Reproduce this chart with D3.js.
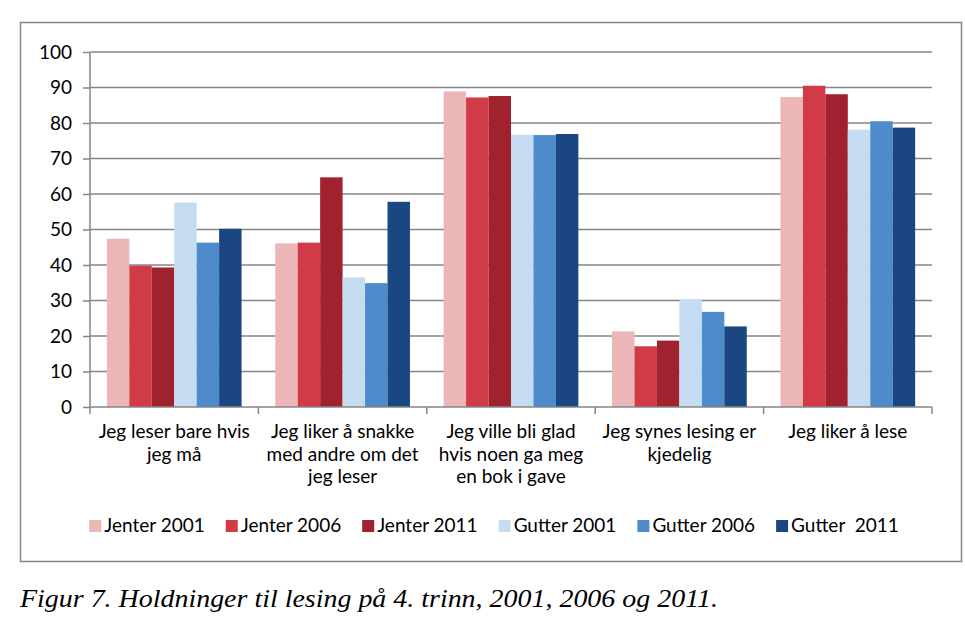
<!DOCTYPE html>
<html>
<meta charset="utf-8">
<style>
body { margin: 0; background: #fff; }
text { font-family: Lato, "Open Sans", sans-serif; fill: #000; }
</style>
<script src="https://d3js.org/d3.v7.min.js"></script>
<body>
<div id="my_dataviz"></div>
<script>
// data
var categories = [
  ["Jeg leser bare hvis", "jeg må"],
  ["Jeg liker å snakke", "med andre om det", "jeg leser"],
  ["Jeg ville bli glad", "hvis noen ga meg", "en bok i gave"],
  ["Jeg synes lesing er", "kjedelig"],
  ["Jeg liker å lese"]
];
var seriesNames = ["Jenter 2001", "Jenter 2006", "Jenter 2011", "Gutter 2001", "Gutter 2006", "Gutter  2011"];
var jenter2001 = [47.4, 46.1, 88.9, 21.3, 87.3];
var jenter2006 = [39.8, 46.3, 87.2, 17.1, 90.5];
var jenter2011 = [39.3, 64.7, 87.6, 18.7, 88.1];
var gutter2001 = [57.6, 36.5, 76.7, 30.3, 78.1];
var gutter2006 = [46.3, 34.9, 76.6, 26.8, 80.5];
var gutter2011 = [50.2, 57.8, 76.9, 22.7, 78.7];
var yTicks = [0, 10, 20, 30, 40, 50, 60, 70, 80, 90, 100];
var caption = "Figur 7. Holdninger til lesing på 4. trinn, 2001, 2006 og 2011.";

var colors = ["#ecb5b6", "#d13b47", "#a0222e", "#c5dbf2", "#4e8bca", "#1a4781"];
var allSeries = [jenter2001, jenter2006, jenter2011, gutter2001, gutter2006, gutter2011];

var W = 965, H = 633;
var margin = {top: 52, right: 33, bottom: 226, left: 90},
    width = W - margin.left - margin.right,
    height = H - margin.top - margin.bottom;

var root = d3.select("#my_dataviz")
  .append("svg")
    .attr("width", W)
    .attr("height", H);

// outer frame
root.append("rect")
  .attr("x", 20.5).attr("y", 22.5)
  .attr("width", 941).attr("height", 539)
  .attr("fill", "none")
  .attr("stroke", "#868686")
  .attr("stroke-width", 1.5);

var svg = root.append("g")
  .attr("transform", "translate(" + margin.left + "," + margin.top + ")");

var catIdx = d3.range(categories.length);
var x0 = d3.scaleBand().domain(catIdx).range([0, width]);
var x1 = d3.scaleBand().domain(d3.range(seriesNames.length))
  .range([0, x0.bandwidth()]).paddingOuter(0.75).paddingInner(0);
var y = d3.scaleLinear().domain([0, 100]).range([height, 0]);

// gridlines
svg.append("g").selectAll("line")
  .data(yTicks.slice(1))
  .enter().append("line")
    .attr("x1", 0).attr("x2", width)
    .attr("y1", function(d) { return y(d); })
    .attr("y2", function(d) { return y(d); })
    .attr("stroke", "#868686")
    .attr("stroke-width", 1.5);

// bars
var groups = svg.append("g").selectAll("g")
  .data(catIdx)
  .enter().append("g")
    .attr("transform", function(c) { return "translate(" + x0(c) + ",0)"; });

groups.selectAll("rect")
  .data(function(c) { return allSeries.map(function(s, i) { return {i: i, v: s[c]}; }); })
  .enter().append("rect")
    .attr("x", function(d) { return x1(d.i); })
    .attr("width", x1.bandwidth())
    .attr("y", function(d) { return y(d.v); })
    .attr("height", function(d) { return height - y(d.v); })
    .attr("fill", function(d) { return colors[d.i]; });

// y axis
var yAxis = svg.append("g")
  .call(d3.axisLeft(y).tickValues(yTicks).tickSize(7).tickPadding(11));
yAxis.selectAll("line, path").attr("stroke", "#868686").attr("stroke-width", 1.5);
yAxis.select(".domain").attr("d", "M0," + height + "V0");
yAxis.selectAll("text").style("font-family", "Lato").style("font-size", "19px").attr("fill", "#000");

// x axis
var xAxisG = svg.append("g").attr("transform", "translate(0," + height + ")");
xAxisG.append("line").attr("x1", 0).attr("x2", width)
  .attr("stroke", "#868686").attr("stroke-width", 1.5);
xAxisG.selectAll(".tk")
  .data(d3.range(categories.length + 1))
  .enter().append("line")
    .attr("x1", function(i) { return i * x0.step(); })
    .attr("x2", function(i) { return i * x0.step(); })
    .attr("y1", 0).attr("y2", 7)
    .attr("stroke", "#868686").attr("stroke-width", 1.5);

// category labels
xAxisG.selectAll(".cat")
  .data(catIdx)
  .enter().append("text")
    .attr("text-anchor", "middle")
    .style("font-size", "19px")
    .each(function(c) {
      var t = d3.select(this);
      categories[c].forEach(function(line, k) {
        t.append("tspan")
          .attr("x", x0(c) + x0.bandwidth() / 2)
          .attr("y", 31 + k * 22.5)
          .text(line);
      });
    });

// legend
var legend = root.append("g");
var lx = 0;
seriesNames.forEach(function(name, i) {
  var g = legend.append("g").attr("transform", "translate(" + lx + ",0)");
  g.append("rect").attr("x", 0).attr("y", 520).attr("width", 12).attr("height", 12).attr("fill", colors[i]);
  var t = g.append("text").attr("x", 15).attr("y", 532)
    .style("font-size", "19px").style("white-space", "pre").text(name);
  lx += 15 + t.node().getComputedTextLength() + 21;
});
legend.attr("transform", "translate(" + (494 - (lx - 21) / 2) + ",0)");

// caption
root.append("text")
  .attr("x", 20).attr("y", 607)
  .attr("textLength", 698)
  .attr("lengthAdjust", "spacingAndGlyphs")
  .style("font-family", "'Liberation Serif', serif")
  .style("font-style", "italic")
  .style("font-size", "25px")
  .attr("fill", "#222")
  .text(caption);
</script>
</body>
</html>
